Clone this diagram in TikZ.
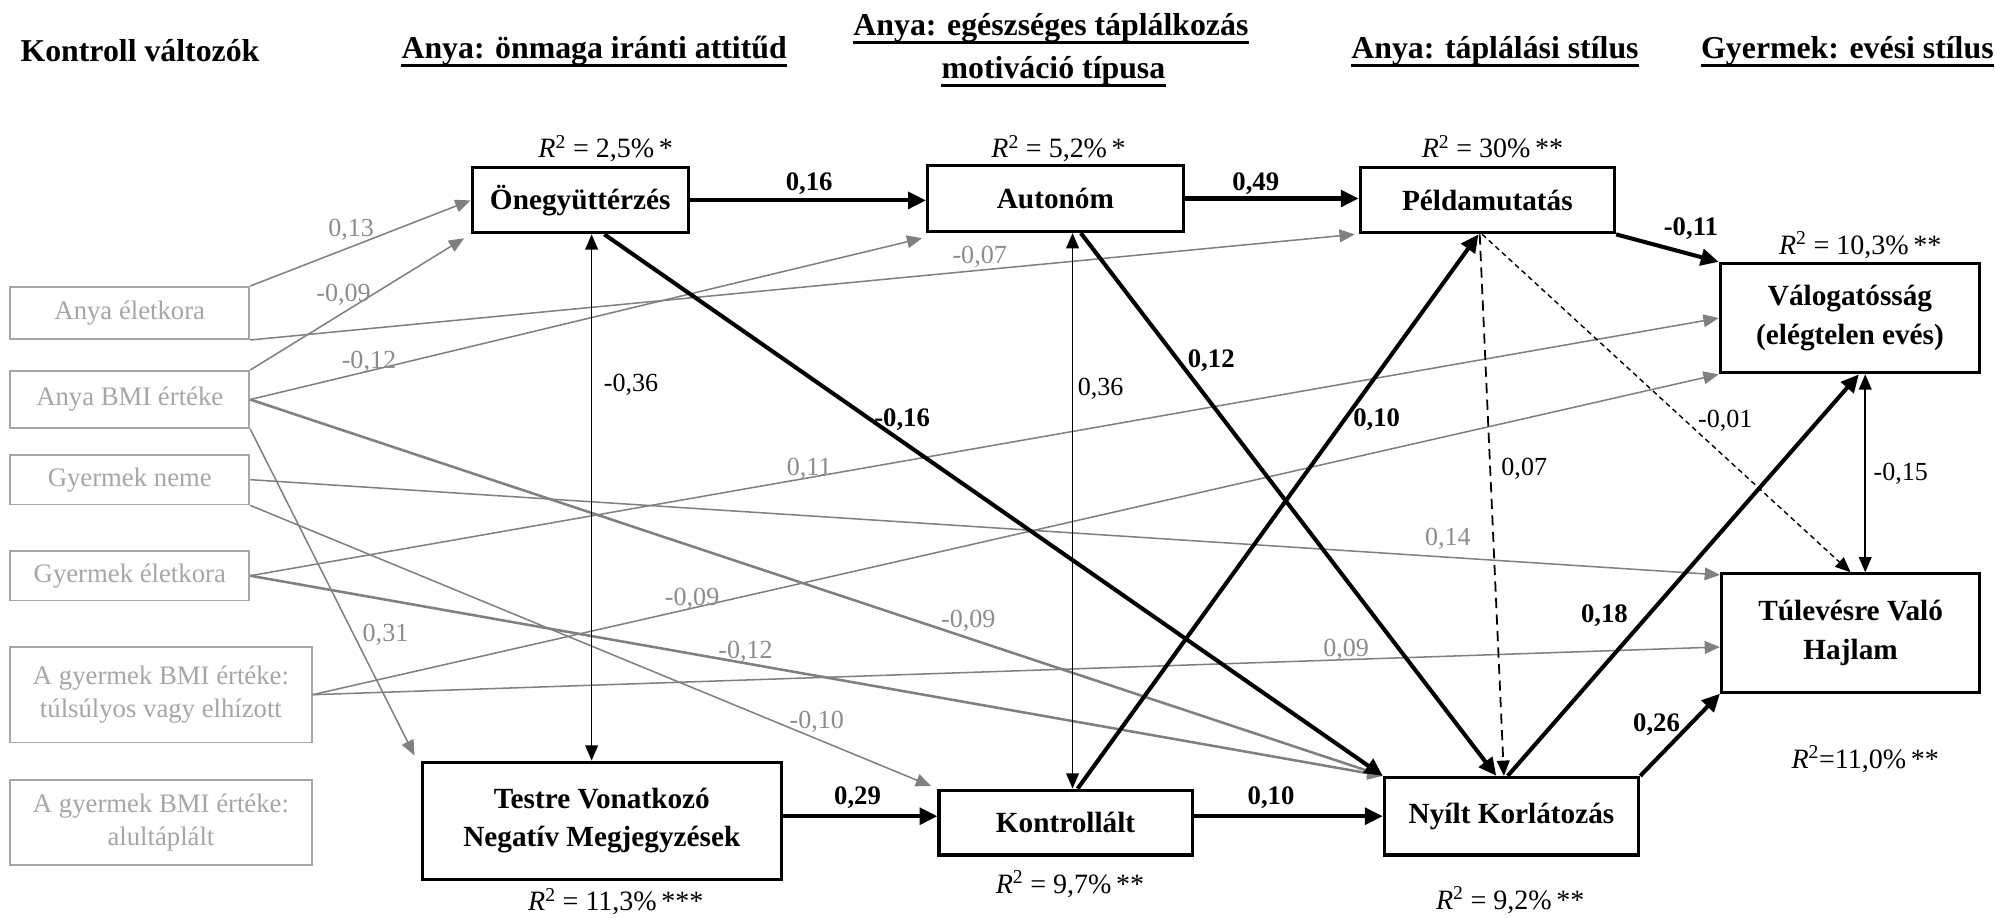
\documentclass[tikz,border=0pt]{standalone}
\usepackage{fontspec}
\setmainfont{Liberation Serif}
\usepackage{xcolor}
\usetikzlibrary{arrows.meta,calc}
\definecolor{ctrlgray}{gray}{0.65}
\definecolor{linegray}{gray}{0.5}
\definecolor{coefgray}{gray}{0.55}

\begin{document}
\begin{tikzpicture}[x=1pt, y=-1pt,
    mainbox/.style={draw, line width=2.4pt, inner sep=0pt, align=center, font=\bfseries\fontsize{23}{30}\selectfont},
    ctrlbox/.style={draw=ctrlgray, line width=1.4pt, text=ctrlgray, inner sep=0pt, align=center, font=\fontsize{21}{26}\selectfont},
    head/.style={inner sep=0pt, anchor=base, font=\bfseries\fontsize{25}{30}\selectfont},
    rsq/.style={inner sep=0pt, text depth=0pt, font=\fontsize{22}{26}\selectfont},
    coefg/.style={inner sep=0pt, text depth=0pt, text=coefgray, font=\fontsize{20.5}{24}\selectfont},
    coefk/.style={inner sep=0pt, text depth=0pt, font=\fontsize{20.5}{24}\selectfont},
    coefb/.style={inner sep=0pt, text depth=0pt, font=\bfseries\fontsize{21}{25}\selectfont},
    boldarr/.style={line width=3.2pt, -{Triangle[length=14pt,width=13pt]}},
    thinarr/.style={line width=1.2pt, {Triangle[length=12pt,width=10pt]}-{Triangle[length=12pt,width=10pt]}},
    grayarr/.style={draw=linegray, line width=1.2pt, -{Triangle[length=12pt,width=10pt]}},
    dasharr/.style={line width=1.4pt, dash pattern=on 8pt off 5pt, -{Triangle[length=12pt,width=10pt]}},
    dotarr/.style={line width=1.1pt, dash pattern=on 4pt off 3pt, -{Triangle[length=12pt,width=10pt]}}
  ]
  \path[use as bounding box, fill=white] (0,0) rectangle (1568,721);

  % headings
  \node[head] (hctrl) at (110,48) {Kontroll változók};
  \node[head] (hself) at (467,46) {Anya: önmaga iránti attitűd};
  \node[head] (hmot1) at (826,28) {Anya: egészséges táplálkozás};
  \node[head] (hmot2) at (828,62) {motiváció típusa};
  \node[head] (hfeed) at (1175,46) {Anya: táplálási stílus};
  \node[head] (heat) at (1452,46) {Gyermek: evési stílus};
  \foreach \h in {hself,hmot1,hmot2,hfeed,heat}
    \draw[line width=2.4pt] (\h.south west) -- (\h.south east);

  % control variables
  \node[ctrlbox, minimum width=188pt, minimum height=41pt] (cage) at (102,246) {Anya életkora};
  \node[ctrlbox, minimum width=188pt, minimum height=45pt] (cbmi) at (102,314) {Anya BMI értéke};
  \node[ctrlbox, minimum width=188pt, minimum height=39pt] (csex) at (102,377) {Gyermek neme};
  \node[ctrlbox, minimum width=188pt, minimum height=39pt] (ckage) at (102,452.5) {Gyermek életkora};
  \node[ctrlbox, minimum width=237pt, minimum height=75pt] (cover) at (126.5,546) {A gyermek BMI értéke:\\túlsúlyos vagy elhízott};
  \node[ctrlbox, minimum width=237pt, minimum height=67pt] (cunder) at (126.5,646.5) {A gyermek BMI értéke:\\alultáplált};

  % model variables
  \node[mainbox, minimum width=170pt, minimum height=51pt] (oneg) at (456,157.5) {Önegyüttérzés};
  \node[mainbox, minimum width=201pt, minimum height=52pt] (auton) at (829.5,156) {Autonóm};
  \node[mainbox, minimum width=200pt, minimum height=51pt] (pelda) at (1169,157.5) {Példamutatás};
  \node[mainbox, minimum width=204pt, minimum height=86pt] (valog) at (1454,250) {Válogatósság\\(elégtelen evés)};
  \node[mainbox, minimum width=203pt, minimum height=93pt] (tulev) at (1454.5,497.5) {Túlevésre Való\\Hajlam};
  \node[mainbox, minimum width=282pt, minimum height=92pt] (testre) at (473,645) {Testre Vonatkozó\\Negatív Megjegyzések};
  \node[mainbox, minimum width=199pt, minimum height=51pt] (kontr) at (837.5,646.5) {Kontrollált};
  \node[mainbox, minimum width=200pt, minimum height=61pt] (nyilt) at (1188,641.5) {Nyílt Korlátozás};

  \node[rsq] (roneg) at (476,115) {\textit{R}\textsuperscript{2} = 2,5\%\,*};
  \node[rsq] (rauton) at (832,115) {\textit{R}\textsuperscript{2} = 5,2\%\,*};
  \node[rsq] (rpelda) at (1173,115) {\textit{R}\textsuperscript{2} = 30\%\,**};
  \node[rsq] (rvalog) at (1462,191) {\textit{R}\textsuperscript{2} = 10,3\%\,**};
  \node[rsq] (rtulev) at (1466,595) {\textit{R}\textsuperscript{2}=11,0\%\,**};
  \node[rsq] (rtestre) at (484,707) {\textit{R}\textsuperscript{2} = 11,3\%\,***};
  \node[rsq] (rkontr) at (841,693) {\textit{R}\textsuperscript{2} = 9,7\%\,**};
  \node[rsq] (rnyilt) at (1187,706) {\textit{R}\textsuperscript{2} = 9,2\%\,**};

  % paths from the control variables
  \draw[grayarr] (cage.north east) -- (oneg.west);
  \draw[grayarr] (cbmi.north east) -- ([xshift=-5pt,yshift=-3pt]oneg.south west);
  \draw[grayarr] (cage.south east) -- ([xshift=-3pt]pelda.south west);
  \draw[grayarr] (cbmi.east) -- ([xshift=-3pt,yshift=-4pt]auton.south west);
  \draw[grayarr, line width=2pt] (cbmi.east) -- (nyilt.north west);
  \draw[grayarr] (cbmi.south east) -- ([xshift=-5pt,yshift=4pt]testre.north west);
  \draw[grayarr] (csex.east) -- ([yshift=-2pt]tulev.north west);
  \draw[grayarr] (csex.south east) -- ([xshift=-5pt,yshift=2pt]kontr.north west);
  \draw[grayarr] (ckage.east) -- (valog.west);
  \draw[grayarr, line width=2pt] (ckage.east) -- (nyilt.north west);
  \draw[grayarr] (cover.east) -- (valog.south west);
  \draw[grayarr] (cover.east) -- ([yshift=-11pt]tulev.west);

  \node[coefg] (gcao) at (276,179) {0,13};
  \node[coefg] (gcbo) at (270,230) {-0,09};
  \node[coefg] (gcap) at (770,200) {-0,07};
  \node[coefg] (gcba) at (290,283) {-0,12};
  \node[coefg] (gcbn) at (761,486) {-0,09};
  \node[coefg] (gcbt) at (303,497) {0,31};
  \node[coefg] (gcst) at (1138,422) {0,14};
  \node[coefg] (gcsk) at (642,566) {-0,10};
  \node[coefg] (gckv) at (636,367) {0,11};
  \node[coefg] (gckn) at (586,511) {-0,12};
  \node[coefg] (gcov) at (544,469) {-0,09};
  \node[coefg] (gcot) at (1058,509) {0,09};

  % model paths
  \draw[boldarr] (oneg.east) -- (oneg.east -| auton.west);
  \draw[boldarr] (auton.east) -- (auton.east -| pelda.west);
  \draw[boldarr] (pelda.south east) -- (valog.north west);
  \draw[boldarr] (testre.east |- nyilt.west) -- (kontr.west |- nyilt.west);
  \draw[boldarr] (kontr.east |- nyilt.west) -- (nyilt.west);
  \draw[boldarr] ([xshift=9.5pt]kontr.north) -- ([xshift=-7pt]pelda.south);
  \draw[boldarr] ([xshift=19pt]oneg.south) -- (nyilt.north west);
  \draw[boldarr] ([xshift=20pt]auton.south) -- ([xshift=-12pt]nyilt.north);
  \draw[boldarr] ([xshift=-3pt]nyilt.north) -- ([xshift=7pt]valog.south);
  \draw[boldarr] (nyilt.north east) -- (tulev.south west);

  \draw[thinarr] ([xshift=9pt]oneg.south) -- ([xshift=9pt]oneg.south |- testre.north);
  \draw[thinarr] ([xshift=13.5pt]auton.south) -- ([xshift=13.5pt]auton.south |- kontr.north);
  \draw[thinarr] ([xshift=12pt]valog.south) -- ([xshift=12pt]valog.south |- tulev.north);

  \draw[dasharr] ([xshift=-6pt]pelda.south) -- ([xshift=-6pt]nyilt.north);
  \draw[dotarr] ([xshift=-4pt]pelda.south) -- (tulev.north);

  \node[coefb] (boa) at (636,143) {0,16};
  \node[coefb] (bap) at (987,143) {0,49};
  \node[coefb] (bpv) at (1329,178) {-0,11};
  \node[coefb] (bon) at (709,328) {-0,16};
  \node[coefb] (ban) at (952,282) {0,12};
  \node[coefb] (bkp) at (1082,328) {0,10};
  \node[coefb] (bnv) at (1261,482) {0,18};
  \node[coefb] (bnt) at (1302,568) {0,26};
  \node[coefb] (btk) at (674,625) {0,29};
  \node[coefb] (bkn) at (999,625) {0,10};

  \node[coefk] (kot) at (496,301) {-0,36};
  \node[coefk] (kak) at (865,304) {0,36};
  \node[coefk] (kpn) at (1198,367) {0,07};
  \node[coefk] (kpt) at (1356,329) {-0,01};
  \node[coefk] (kvt) at (1494,371) {-0,15};
\end{tikzpicture}
\end{document}
